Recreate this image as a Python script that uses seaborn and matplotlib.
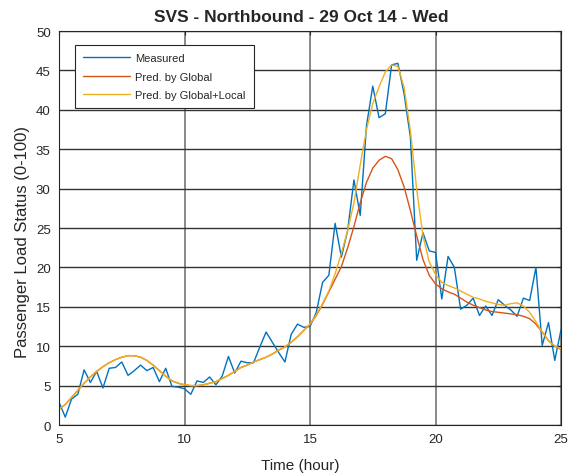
import numpy as np
import pandas as pd
import seaborn as sns
from matplotlib import pyplot as plt

# time of day, one sample every 15 min
hours = np.arange(81) * 0.25 + 5

measured = [2.9, 1.0, 3.3, 3.9, 7.0, 5.4, 6.8, 4.7, 7.2, 7.3,
            8.0, 6.3, 6.9, 7.6, 6.9, 7.3, 5.5, 7.2, 4.9, 4.8,
            4.6, 3.9, 5.6, 5.4, 6.1, 5.1, 6.2, 8.7, 6.6, 8.1,
            7.9, 7.9, 9.9, 11.8, 10.5, 9.2, 8.0, 11.5, 12.8, 12.4,
            12.5, 14.3, 18.1, 19.0, 25.6, 21.3, 24.7, 31.1, 26.6, 38.0,
            43.0, 39.0, 39.5, 45.7, 45.9, 42.0, 36.5, 20.9, 24.4, 22.1,
            21.9, 16.0, 21.4, 20.0, 14.7, 15.2, 16.1, 13.9, 15.1, 13.9,
            15.9, 15.2, 14.6, 13.8, 16.1, 15.8, 20.0, 10.1, 13.0, 8.2,
            12.1]

# both predictions are the same until 15h
shared = [2.0, 2.6, 3.5, 4.4, 5.3, 6.1, 6.8, 7.4, 7.9, 8.3,
          8.6, 8.8, 8.8, 8.6, 8.2, 7.6, 6.9, 6.2, 5.6, 5.3,
          5.1, 5.0, 5.0, 5.1, 5.3, 5.5, 5.9, 6.3, 6.8, 7.3,
          7.6, 8.0, 8.3, 8.6, 9.0, 9.5, 9.9, 10.5, 11.2, 12.0,
          12.8]

pred_global = shared + [13.9, 15.3, 16.9, 18.5, 20.1, 22.5, 25.2, 28.2, 30.8, 32.6,
                        33.6, 34.1, 33.8, 32.4, 30.2, 27.2, 24.0, 21.0, 19.0, 17.9,
                        17.3, 16.9, 16.6, 16.1, 15.6, 15.2, 14.9, 14.6, 14.4, 14.3,
                        14.2, 14.1, 14.0, 13.8, 13.5, 12.8, 11.8, 10.7, 10.0, 9.6]

pred_local = shared + [14.0, 15.4, 17.0, 19.2, 21.8, 24.7, 28.2, 33.0, 37.5, 40.8,
                       42.9, 44.8, 45.7, 45.5, 42.8, 37.3, 29.9, 24.0, 20.7, 19.1,
                       18.1, 17.7, 17.4, 17.0, 16.6, 16.2, 16.0, 15.7, 15.5, 15.3,
                       15.2, 15.4, 15.5, 15.1, 14.3, 13.1, 11.8, 10.7, 10.0, 9.7]

df = pd.DataFrame({"hour": hours, "Measured": measured,
                   "Pred. by Global": pred_global,
                   "Pred. by Global+Local": pred_local})

sns.set_style("white")
plt.rcParams['font.family'] = ['Liberation Sans', 'DejaVu Sans']

fig = plt.figure(figsize=(5.69, 4.77), dpi=100)
ax = fig.add_axes([0.1037, 0.1069, 0.8823, 0.826])

sns.lineplot(data=df, x="hour", y="Measured", ax=ax, color="#0072BD", lw=1.0, label="Measured")
sns.lineplot(data=df, x="hour", y="Pred. by Global", ax=ax, color="#D95319", lw=1.0, label="Pred. by Global")
sns.lineplot(data=df, x="hour", y="Pred. by Global+Local", ax=ax, color="#EDB120", lw=1.0,
             label="Pred. by Global+Local")

ax.set_xlim(5, 25)
ax.set_ylim(0, 50)
ax.set_xticks([5, 10, 15, 20, 25])
ax.set_yticks(np.arange(0, 51, 5))
ax.tick_params(direction="in", length=3, labelsize=9.5, colors="#262626",
               top=True, right=True, pad=6)
ax.xaxis.grid(True, color="#808080", lw=1.3)
ax.yaxis.grid(True, color="#333333", lw=1.0)
ax.set_axisbelow(True)
for s in ax.spines.values():
    s.set_color("#262626")
    s.set_linewidth(0.8)

ax.set_title("SVS - Northbound - 29 Oct 14 - Wed", fontsize=12.5, fontweight="bold", pad=7)
ax.title.set_x(0.482)
ax.set_xlabel("Time (hour)", fontsize=11)
ax.set_ylabel("Passenger Load Status (0-100)", fontsize=12)
ax.xaxis.set_label_coords(0.48, -0.083)
ax.yaxis.set_label_coords(-0.058, 0.467)

leg = ax.legend(loc="upper left", bbox_to_anchor=(0.032, 0.9645), borderaxespad=0,
                fontsize=8, handlelength=4.2, handletextpad=0.45, frameon=True,
                fancybox=False, framealpha=1, edgecolor="#262626",
                borderpad=0.75, labelspacing=0.75)
leg.get_frame().set_linewidth(0.8)

plt.savefig("out.png", dpi=100)
